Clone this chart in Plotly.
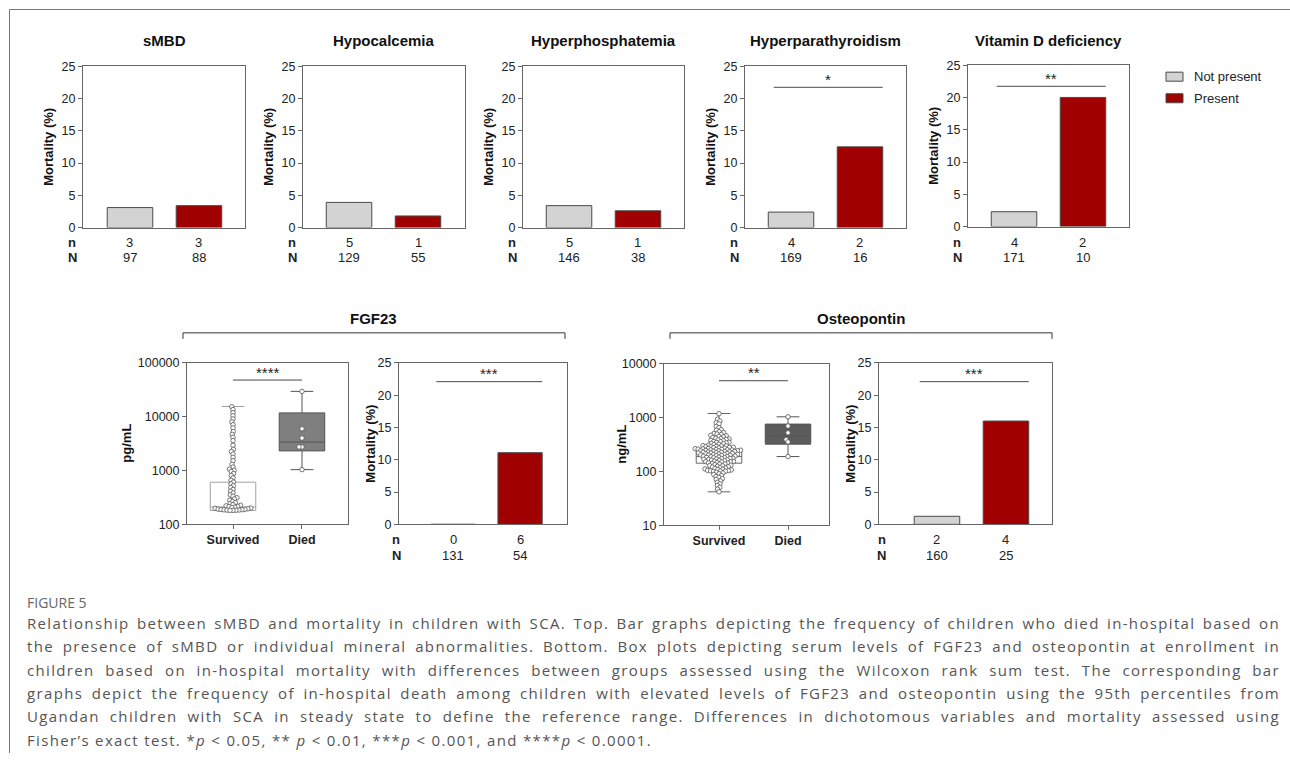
import numpy as np
import plotly.graph_objects as go

W, H = 1290, 760

# ---------------- data ----------------
top_titles = ["sMBD", "Hypocalcemia", "Hyperphosphatemia", "Hyperparathyroidism", "Vitamin D deficiency"]
top_not_present = [3.1, 3.9, 3.4, 2.4, 2.3]
top_present = [3.4, 1.8, 2.6, 12.5, 20.0]
top_n_not = [3, 5, 5, 4, 4]
top_N_not = [97, 129, 146, 169, 171]
top_n_pres = [3, 1, 1, 2, 2]
top_N_pres = [88, 55, 38, 16, 10]
top_sig = ["", "", "", "*", "**"]

bottom_titles = ["FGF23", "Osteopontin"]
bottom_units = ["pg/mL", "ng/mL"]
bottom_not_present = [0.0, 1.25]
bottom_present = [11.1, 16.0]
bottom_n_not = [0, 2]
bottom_N_not = [131, 160]
bottom_n_pres = [6, 4]
bottom_N_pres = [54, 25]
bar_sig = ["***", "***"]
box_sig = ["****", "**"]
groups = ["Survived", "Died"]

fgf23_q1 = [182, 2320]
fgf23_median = [210, 3380]
fgf23_q3 = [607, 11800]
fgf23_low = [182, 1040]
fgf23_high = [15500, 29600]
fgf23_ticks = [100, 1000, 10000, 100000]

opn_q1 = [143, 323]
opn_median = [190, 460]
opn_q3 = [250, 762]
opn_low = [42, 190]
opn_high = [1200, 1040]
opn_ticks = [10, 100, 1000, 10000]

fgf23_survived = [15300, 13600, 11900, 10400, 9100, 8000, 7100, 6200, 5300, 4700, 4150, 3600,
                  2950, 2480, 2260, 2030, 1760, 1520, 1310, 1160, 1060, 1010, 960, 880, 810,
                  730, 660, 610, 565, 520, 485, 445, 412, 383, 352, 333, 312, 296, 281, 266,
                  252, 241, 232, 226, 221,
                  216, 213, 209, 205, 201, 198, 195, 192, 190, 189, 187, 186, 185, 184,
                  183, 182, 182]
fgf23_died = [29600, 5970, 4010, 2750, 2750, 1040]

opn_survived = [1190, 940, 870, 805, 770, 690, 655, 600, 585, 548, 530, 512, 498,
                488, 471, 462, 450, 441, 428, 417, 409, 402,
                396, 388, 379, 374, 363, 358, 351, 344, 341, 333, 327, 321, 316, 309, 303, 299,
                297, 293, 289, 288, 283, 279, 277, 274, 271, 268, 266, 263, 261, 258, 256, 254, 252, 251,
                249, 247, 244, 243, 241, 238, 236, 235, 233, 230, 228, 227, 224, 221, 220, 218, 216,
                213, 211, 209, 207, 205, 204, 202, 200,
                198, 197, 194, 192, 189, 188, 185, 183, 181, 180, 177, 175, 173, 171, 169, 167,
                165, 162, 161, 158, 156, 154, 153, 151, 150,
                147, 145, 143, 141, 138, 137, 134, 131, 129, 127, 125, 123, 121,
                118, 116, 114, 112, 110, 109, 107, 105, 104, 103, 102, 101, 100,
                97, 94, 91, 88, 84, 81, 78, 74, 71,
                67, 63, 59, 55, 51, 47, 42]
opn_died = [1040, 700, 525, 394, 356, 190]

# ---------------- style ----------------
FONT = "Liberation Sans, Arial, sans-serif"
CAP_FONT = "Open Sans, Noto Sans, sans-serif"
GRAY_FILL = "#d3d3d3"
RED_FILL = "#a00000"
OUTLINE = "#4a4a4a"
AXIS = "#666666"
TXT = "#222222"

# vertical calibration of the layout grid
Y_OFF, Y_SCALE = 7.0, 0.979


def px(x):
    return x / W


def py(y):
    return 1 - ((y - Y_OFF) / Y_SCALE) / H


# panels: left, right, top, bottom (pixels), x-range
panels = [
    dict(l=83, r=245, t=66, b=227, xr=[-0.681, 1.667]),
    dict(l=303, r=465, t=66, b=227, xr=[-0.667, 1.681]),
    dict(l=523, r=684, t=66, b=227, xr=[-0.667, 1.667]),
    dict(l=745, r=906, t=66, b=227, xr=[-0.667, 1.667]),
    dict(l=968, r=1129, t=65, b=226, xr=[-0.667, 1.667]),
    dict(l=187, r=348, t=362, b=523, xr=[-0.667, 1.667], log=[2, 5]),
    dict(l=399, r=567, t=362, b=523, xr=[-0.806, 1.70]),
    dict(l=664, r=829, t=363, b=524, xr=[-0.797, 1.594], log=[1, 4]),
    dict(l=879, r=1052, t=362, b=523, xr=[-0.84, 1.667]),
]


def ax_names(i):
    s = "" if i == 1 else str(i)
    return "x" + s, "y" + s, "xaxis" + s, "yaxis" + s


fig = go.Figure()
layout_axes = {}
for i, p in enumerate(panels, start=1):
    xn, yn, xk, yk = ax_names(i)
    xa = dict(domain=[px(p["l"]), px(p["r"])], range=p["xr"], anchor=yn,
              showline=True, linecolor=AXIS, linewidth=1, mirror=True,
              showgrid=False, zeroline=False, fixedrange=True)
    if "log" in p:
        xa.update(tickmode="array", tickvals=[0, 1], ticktext=["<b>%s</b>" % g for g in groups],
                  ticks="outside", ticklen=4, tickcolor=AXIS,
                  tickfont=dict(family=FONT, size=12.5, color=TXT))
    else:
        xa.update(showticklabels=False, ticks="")
    ya = dict(domain=[py(p["b"]), py(p["t"])], anchor=xn,
              showline=True, linecolor=AXIS, linewidth=1, mirror=True,
              showgrid=False, zeroline=False, ticks="outside", ticklen=4, tickcolor=AXIS,
              tickfont=dict(family=FONT, size=12.5, color=TXT), fixedrange=True)
    if "log" in p:
        tv = fgf23_ticks if i == 6 else opn_ticks
        ya.update(type="log", range=p["log"], tickmode="array", tickvals=tv,
                  ticktext=[str(v) for v in tv])
    else:
        ya.update(range=[0, 25], tickmode="array", tickvals=[0, 5, 10, 15, 20, 25])
    layout_axes[xk] = xa
    layout_axes[yk] = ya

annotations = []
shapes = []

# --------- bar panels ---------
bar_w = 0.66


def add_bars(i, v_not, v_pres, n_not, N_not, n_pres, N_pres, sig, lab_x, ny, Ny):
    xn, yn, _, _ = ax_names(i)
    fig.add_trace(go.Bar(x=[0], y=[v_not], width=bar_w, xaxis=xn, yaxis=yn,
                         marker=dict(color=GRAY_FILL, line=dict(color=OUTLINE, width=1)),
                         name="Not present", showlegend=False, hoverinfo="skip"))
    fig.add_trace(go.Bar(x=[1], y=[v_pres], width=bar_w, xaxis=xn, yaxis=yn,
                         marker=dict(color=RED_FILL, line=dict(color=OUTLINE, width=1)),
                         name="Present", showlegend=False, hoverinfo="skip"))
    for lab, yy in (("n", ny), ("N", Ny)):
        annotations.append(dict(x=px(lab_x), y=py(yy), xref="paper", yref="paper",
                                text="<b>%s</b>" % lab, showarrow=False,
                                font=dict(family=FONT, size=13, color=TXT),
                                xanchor="center", yanchor="middle"))
    for k, (a, b) in enumerate(((n_not, N_not), (n_pres, N_pres))):
        annotations.append(dict(x=k, y=py(ny), xref=xn, yref="paper", text=str(a), showarrow=False,
                                font=dict(family=FONT, size=13, color=TXT), xanchor="center", yanchor="middle"))
        annotations.append(dict(x=k, y=py(Ny), xref=xn, yref="paper", text=str(b), showarrow=False,
                                font=dict(family=FONT, size=13, color=TXT), xanchor="center", yanchor="middle"))
    if sig:
        fy = 0.869 if i <= 5 else 0.884
        shapes.append(dict(type="line", xref=xn, yref=yn + " domain", x0=-0.25, x1=1.33,
                           y0=fy, y1=fy, line=dict(color=OUTLINE, width=1)))
        annotations.append(dict(x=0.54, y=fy, xref=xn, yref=yn + " domain",
                                text=sig, showarrow=False, yshift=8,
                                font=dict(family=FONT, size=15, color=TXT),
                                xanchor="center", yanchor="middle"))


for j in range(5):
    p = panels[j]
    add_bars(j + 1, top_not_present[j], top_present[j], top_n_not[j], top_N_not[j],
             top_n_pres[j], top_N_pres[j], top_sig[j], p["l"] - 11, 241.5, 257)
    annotations.append(dict(x=px((p["l"] + p["r"]) / 2), y=py(40), xref="paper", yref="paper",
                            text="<b>%s</b>" % top_titles[j], showarrow=False,
                            font=dict(family=FONT, size=15, color="#111"),
                            xanchor="center", yanchor="middle"))
    annotations.append(dict(x=px(p["l"] - 34), y=py((p["t"] + p["b"]) / 2), xref="paper", yref="paper",
                            text="<b>Mortality (%)</b>", textangle=-90, showarrow=False,
                            font=dict(family=FONT, size=13, color="#111"),
                            xanchor="center", yanchor="middle"))

add_bars(7, bottom_not_present[0], bottom_present[0], bottom_n_not[0], bottom_N_not[0],
         bottom_n_pres[0], bottom_N_pres[0], bar_sig[0], 396, 538.5, 554)
add_bars(9, bottom_not_present[1], bottom_present[1], bottom_n_not[1], bottom_N_not[1],
         bottom_n_pres[1], bottom_N_pres[1], bar_sig[1], 882, 538.5, 554)
for i, xx in ((7, 371), (9, 851)):
    p = panels[i - 1]
    annotations.append(dict(x=px(xx), y=py((p["t"] + p["b"]) / 2), xref="paper", yref="paper",
                            text="<b>Mortality (%)</b>", textangle=-90, showarrow=False,
                            font=dict(family=FONT, size=13, color="#111"),
                            xanchor="center", yanchor="middle"))


# --------- box panels ---------
def swarm(vals, ppd, d):
    ys = np.log10(np.asarray(vals, float)) * ppd
    order = np.argsort(ys, kind="stable")
    placed = []
    xs = np.zeros(len(ys))
    for idx in order:
        y = ys[idx]
        cands = [0.0]
        for (qx, qy) in placed:
            dy = abs(qy - y)
            if dy < d:
                w = np.sqrt(d * d - dy * dy)
                cands += [qx - w, qx + w]
        cands.sort(key=lambda c: (abs(c), c))
        for c in cands:
            if all((c - qx) ** 2 + (y - qy) ** 2 >= d * d - 1e-6 for qx, qy in placed):
                xs[idx] = c
                placed.append((c, y))
                break
    return xs


def add_box(i, q1, med, q3, lo, hi, surv, died, died_fill, surv_line, ppu, ppd):
    xn, yn, _, _ = ax_names(i)
    fills = ["rgba(255,255,255,0)", died_fill]
    lines = [surv_line, "#555555"]
    for k in range(2):
        fig.add_trace(go.Box(x=[k], q1=[q1[k]], median=[med[k]], q3=[q3[k]],
                             lowerfence=[lo[k]], upperfence=[hi[k]], width=0.66, whiskerwidth=0.5,
                             fillcolor=fills[k], line=dict(color=lines[k], width=1),
                             boxpoints=False, xaxis=xn, yaxis=yn, showlegend=False, hoverinfo="skip"))
    for k, vals in enumerate((surv, died)):
        dx = swarm(vals, ppd, 3.0)
        fig.add_trace(go.Scatter(x=k + dx / ppu, y=vals, mode="markers", xaxis=xn, yaxis=yn,
                                 marker=dict(size=4.5, color="white", line=dict(color="#555555", width=0.8)),
                                 showlegend=False, hoverinfo="skip"))


add_box(6, fgf23_q1, fgf23_median, fgf23_q3, fgf23_low, fgf23_high, fgf23_survived, fgf23_died,
        "#7f7f7f", "#a0a0a0", 69.0, 161 / 3)
add_box(8, opn_q1, opn_median, opn_q3, opn_low, opn_high, opn_survived, opn_died,
        "#5c5c5c", "#666666", 69.0, 161 / 3)

for i, frac, sig, unit_x, unit in ((6, 0.894, box_sig[0], 127, bottom_units[0]),
                                   (8, 0.896, box_sig[1], 622, bottom_units[1])):
    xn, yn, _, _ = ax_names(i)
    shapes.append(dict(type="line", xref=xn, yref=yn + " domain", x0=0, x1=1, y0=frac, y1=frac,
                       line=dict(color=OUTLINE, width=1)))
    annotations.append(dict(x=0.5, y=frac, xref=xn, yref=yn + " domain", text=sig, showarrow=False,
                            yshift=8, font=dict(family=FONT, size=15, color=TXT),
                            xanchor="center", yanchor="middle"))
    p = panels[i - 1]
    annotations.append(dict(x=px(unit_x), y=py((p["t"] + p["b"]) / 2), xref="paper", yref="paper",
                            text="<b>%s</b>" % unit, textangle=-90, showarrow=False,
                            font=dict(family=FONT, size=13, color="#111"),
                            xanchor="center", yanchor="middle"))

# group titles and brackets
for title, cx, l, r in ((bottom_titles[0], 373, 183, 565), (bottom_titles[1], 861, 670, 1052)):
    annotations.append(dict(x=px(cx), y=py(318), xref="paper", yref="paper", text="<b>%s</b>" % title,
                            showarrow=False, font=dict(family=FONT, size=15, color="#111"),
                            xanchor="center", yanchor="middle"))
    shapes.append(dict(type="path", xref="paper", yref="paper",
                       path="M %f %f L %f %f L %f %f L %f %f" % (px(l), py(338), px(l), py(332),
                                                             px(r), py(332), px(r), py(338)),
                       line=dict(color="#333333", width=1)))

# legend (manual)
for name, col, yy in (("Not present", GRAY_FILL, 76.5), ("Present", RED_FILL, 98)):
    shapes.append(dict(type="rect", xref="paper", yref="paper", x0=px(1166), x1=px(1183),
                       y0=py(yy - 4.5), y1=py(yy + 4.5), fillcolor=col, line=dict(color=OUTLINE, width=1)))
    annotations.append(dict(x=px(1192), y=py(yy), xref="paper", yref="paper", text=name, showarrow=False,
                            font=dict(family=FONT, size=13, color=TXT), xanchor="left", yanchor="middle"))

# frame lines
shapes.append(dict(type="line", xref="paper", yref="paper", x0=px(9.5), x1=1, y0=py(9.5), y1=py(9.5),
                   line=dict(color="#777777", width=1)))
shapes.append(dict(type="line", xref="paper", yref="paper", x0=px(9.5), x1=px(9.5), y0=py(9.5), y1=0,
                   line=dict(color="#777777", width=1)))

# caption
caption_lines = [
    "Relationship between sMBD and mortality in children with SCA. Top. Bar graphs depicting the frequency of children who died in-hospital based on",
    "the presence of sMBD or individual mineral abnormalities. Bottom. Box plots depicting serum levels of FGF23 and osteopontin at enrollment in",
    "children based on in-hospital mortality with differences between groups assessed using the Wilcoxon rank sum test. The corresponding bar",
    "graphs depict the frequency of in-hospital death among children with elevated levels of FGF23 and osteopontin using the 95th percentiles from",
    "Ugandan children with SCA in steady state to define the reference range. Differences in dichotomous variables and mortality assessed using",
    "Fisher\u2019s exact test. *<i>p</i> < 0.05, ** <i>p</i> < 0.01, ***<i>p</i> < 0.001, and ****<i>p</i> < 0.0001.",
]
annotations.append(dict(x=px(25), y=py(601), xref="paper", yref="paper", text="FIGURE 5", showarrow=False,
                        font=dict(family=CAP_FONT, size=14, color="#666666"), xanchor="left", yanchor="middle",
                        align="left"))
for k, line in enumerate(caption_lines):
    annotations.append(dict(x=px(25), y=py(621 + 23.4 * k), xref="paper", yref="paper", text=line,
                            showarrow=False, font=dict(family=CAP_FONT, size=15, color="#555555"),
                            xanchor="left", yanchor="middle", align="left"))

fig.update_layout(width=W, height=H, autosize=False, margin=dict(l=0, r=0, t=0, b=0),
                  paper_bgcolor="white", plot_bgcolor="white", barmode="overlay", boxmode="overlay",
                  showlegend=False, annotations=annotations, shapes=shapes, **layout_axes)

post_js = """
document.documentElement.style.margin = '0px';
document.documentElement.style.overflow = 'hidden';
document.body.style.margin = '0px';
document.body.style.overflow = 'hidden';
(function(){
  var gd = document.getElementById('{plot_id}');
  if (!gd) return;
  gd.style.position = 'fixed';
  gd.style.left = '0px';
  gd.style.top = '0px';
  var ts = Array.prototype.slice.call(gd.querySelectorAll('text.annotation-text'));
  var cap = ts.filter(function(t){ return t.textContent.length > 60; });
  var last = null;
  cap.forEach(function(t){ if (t.textContent.indexOf('Fisher') === 0) last = t; });
  if (!last) return;
  var n = last.textContent.length;
  var w = last.getBBox().width;
  var ls = (625 - w) / n;
  cap.forEach(function(t){ t.style.letterSpacing = ls + 'px'; });
  cap.forEach(function(t){
    if (t === last) return;
    var s = t.textContent;
    var ns = (s.match(/ /g) || []).length;
    var w2 = t.getBBox().width;
    if (ns > 0) t.style.wordSpacing = ((1253 - w2) / ns) + 'px';
  });
})();
"""

fig.write_html("out.html", config={"displayModeBar": False}, post_script=post_js)
